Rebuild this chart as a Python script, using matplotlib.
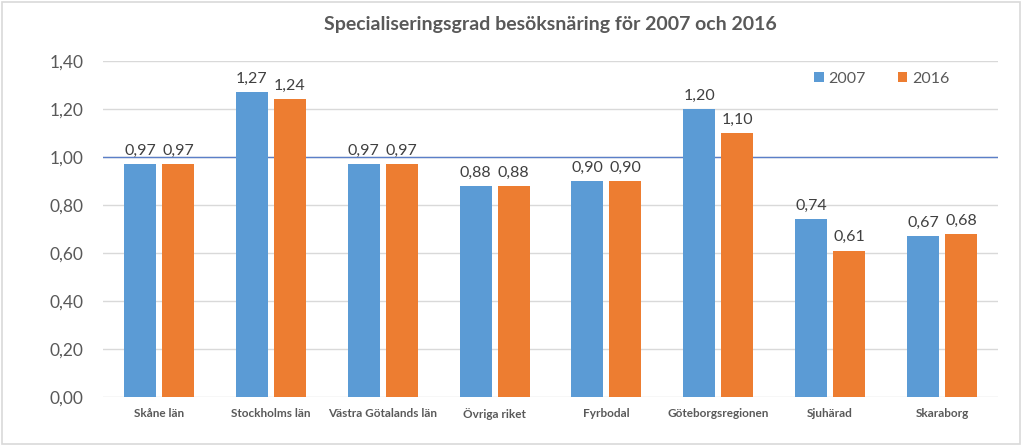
import matplotlib.pyplot as plt
from matplotlib.ticker import FuncFormatter, MultipleLocator
from matplotlib.patches import Rectangle
import numpy as np

categories = ["Skåne län", "Stockholms län", "Västra Götalands län", "Övriga riket",
              "Fyrbodal", "Göteborgsregionen", "Sjuhärad", "Skaraborg"]
values_2007 = [0.97, 1.27, 0.97, 0.88, 0.90, 1.20, 0.74, 0.67]
values_2016 = [0.97, 1.24, 0.97, 0.88, 0.90, 1.10, 0.61, 0.68]
series_labels = ["2007", "2016"]

BLUE = "#5B9BD5"
ORANGE = "#ED7D31"
TEXT = "#595959"

plt.rcParams['font.family'] = ['Lato', 'DejaVu Sans']

fig = plt.figure(figsize=(10.24, 4.46), dpi=100)
ax = fig.add_axes([0.1006, 0.1099, 0.8740, 0.7533])

x = np.arange(len(categories))
w = 0.286
off = 0.17
b1 = ax.bar(x - off, values_2007, w, color=BLUE, label=series_labels[0], zorder=3)
b2 = ax.bar(x + off, values_2016, w, color=ORANGE, label=series_labels[1], zorder=3)

fmt = lambda v: f"{v:.2f}".replace(".", ",")
for bars in (b1, b2):
    for r in bars:
        h = r.get_height()
        ax.annotate(fmt(h), (r.get_x() + r.get_width() / 2, h), xytext=(0, 4.5),
                    textcoords="offset points", ha="center", va="bottom",
                    fontsize=11.5, color="#404040")

# reference line at 1.0
ax.axhline(1.0, color="#5B7FC8", lw=1.0, zorder=2)

ax.set_ylim(0, 1.40)
ax.set_xlim(-0.5, len(categories) - 0.5)
ax.yaxis.set_major_locator(MultipleLocator(0.2))
ax.yaxis.set_major_formatter(FuncFormatter(lambda v, p: fmt(v)))
ax.grid(axis="y", color="#D9D9D9", lw=1.0, zorder=0)
ax.set_axisbelow(True)
for s in ax.spines.values():
    s.set_visible(False)
ax.tick_params(axis="y", length=0, pad=14, labelsize=12.5, labelcolor=TEXT)
ax.tick_params(axis="x", length=0, pad=8, labelsize=8.5, labelcolor=TEXT)
ax.set_xticks(x)
ax.set_xticklabels(categories, fontweight="bold")

ax.set_title("Specialiseringsgrad besöksnäring för 2007 och 2016", fontsize=14,
             fontweight="bold", color=TEXT, pad=22)

leg = ax.legend(loc="upper right", bbox_to_anchor=(0.962, 1.01), ncol=2, frameon=False,
                fontsize=11.5, handlelength=0.6, handleheight=0.6, handletextpad=0.3,
                columnspacing=2.0, labelcolor=TEXT)

fig.patches.append(Rectangle((0.002, 0.004), 0.994, 0.992, transform=fig.transFigure,
                             fill=False, edgecolor="#D9D9D9", lw=1.2))

fig.savefig("out.png", dpi=100, facecolor="white")
